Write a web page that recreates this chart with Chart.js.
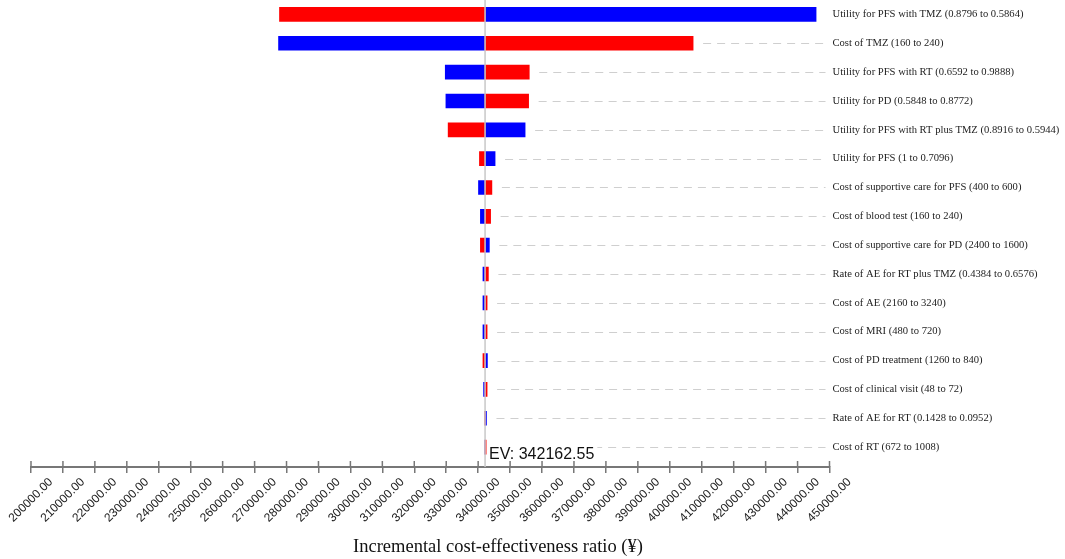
<!DOCTYPE html>
<html>
<head>
<meta charset="utf-8">
<script src="https://cdn.jsdelivr.net/npm/chart.js@4"></script>
<style>
  html, body { margin: 0; padding: 0; background: #fff; }
  #wrap { width: 1065px; height: 559px; }
</style>
</head>
<body>
<div id="wrap"><canvas id="tornadoChart" width="1065" height="559"></canvas></div>
<script>
// parameters, top to bottom
const parameterNames = [
  "Utility for PFS with TMZ (0.8796 to 0.5864)",
  "Cost of TMZ (160 to 240)",
  "Utility for PFS with RT (0.6592 to 0.9888)",
  "Utility for PD (0.5848 to 0.8772)",
  "Utility for PFS with RT plus TMZ (0.8916 to 0.5944)",
  "Utility for PFS (1 to 0.7096)",
  "Cost of supportive care for PFS (400 to 600)",
  "Cost of blood test (160 to 240)",
  "Cost of supportive care for PD (2400 to 1600)",
  "Rate of AE for RT plus TMZ (0.4384 to 0.6576)",
  "Cost of AE (2160 to 3240)",
  "Cost of MRI (480 to 720)",
  "Cost of PD treatment (1260 to 840)",
  "Cost of clinical visit (48 to 72)",
  "Rate of AE for RT (0.1428 to 0.0952)",
  "Cost of RT (672 to 1008)"
];

// ICER at each end of the range (red bar end / blue bar end)
const redEnds = [277800, 407300, 356000, 355800, 330600, 340400, 344300, 343900,
                 340700, 343200, 342800, 342800, 341500, 342800, 342100, 342500];
const blueEnds = [445800, 277500, 329700, 329900, 354700, 345300, 340100, 340700,
                  343500, 341500, 341500, 341500, 342900, 341700, 342600, 342100];

const expectedValue = 342162.55;

const xMin = 200000;
const xMax = 450000;
const xStep = 10000;

const axisGray = "#777777";

// dashed guide lines, EV line, EV label, up-ticks and axis title
const tornadoExtras = {
    id: "tornadoExtras",
    afterDatasetsDraw(chart) {
        const ctx = chart.ctx;
        const xs = chart.scales.x;
        const ys = chart.scales.y;
        const area = chart.chartArea;

        ctx.save();
        // dashed lines from bar end to the labels
        ctx.strokeStyle = "#cfcfcf";
        ctx.lineWidth = 1;
        ctx.setLineDash([8, 6]);
        parameterNames.forEach((name, i) => {
            const end = Math.max(redEnds[i], blueEnds[i], expectedValue);
            const x0 = xs.getPixelForValue(end) + 10;
            const y = Math.round(ys.getPixelForValue(i)) + 0.5;
            if (x0 < area.right - 4) {
                ctx.beginPath();
                ctx.moveTo(x0, y);
                ctx.lineTo(area.right - 4, y);
                ctx.stroke();
            }
        });
        ctx.setLineDash([]);

        // EV line
        const evX = xs.getPixelForValue(expectedValue);
        ctx.strokeStyle = "#c8c8c8";
        ctx.lineWidth = 1.5;
        ctx.beginPath();
        ctx.moveTo(evX, area.top);
        ctx.lineTo(evX, area.bottom);
        ctx.stroke();

        // EV label
        ctx.font = "16px 'Liberation Sans', Arial, sans-serif";
        const evText = "EV: " + expectedValue.toFixed(2);
        const w = ctx.measureText(evText).width;
        ctx.fillStyle = "#ffffff";
        ctx.fillRect(evX + 3, area.bottom - 22, w + 4, 19);
        ctx.fillStyle = "#111111";
        ctx.textBaseline = "middle";
        ctx.textAlign = "left";
        ctx.fillText(evText, evX + 4, area.bottom - 12);

        // upper half of the cross ticks
        ctx.strokeStyle = axisGray;
        ctx.lineWidth = 1.5;
        xs.ticks.forEach(t => {
            const x = xs.getPixelForValue(t.value);
            ctx.beginPath();
            ctx.moveTo(x, area.bottom - 6);
            ctx.lineTo(x, area.bottom);
            ctx.stroke();
        });

        // axis title
        ctx.font = "18.5px 'Liberation Serif', 'Times New Roman', serif";
        ctx.fillStyle = "#111111";
        ctx.textAlign = "center";
        ctx.textBaseline = "middle";
        ctx.fillText("Incremental cost-effectiveness ratio (\u00a5)", 498, 547);
        ctx.restore();
    }
};

const ctx = document.getElementById("tornadoChart").getContext("2d");
new Chart(ctx, {
    type: "bar",
    data: {
        datasets: [
            {
                label: "red",
                data: redEnds.map((v, i) => ({ x: [expectedValue, v], y: i })),
                backgroundColor: "#ff0000",
                borderWidth: 0,
                barThickness: 14,
                grouped: false
            },
            {
                label: "blue",
                data: blueEnds.map((v, i) => ({ x: [expectedValue, v], y: i })),
                backgroundColor: "#0000ff",
                borderWidth: 0,
                barThickness: 14,
                grouped: false
            }
        ]
    },
    options: {
        indexAxis: "y",
        responsive: false,
        animation: false,
        devicePixelRatio: 1,
        layout: { padding: { left: 31, right: 0, top: 0, bottom: 0 } },
        plugins: {
            legend: { display: false },
            tooltip: { enabled: false },
            title: { display: false }
        },
        scales: {
            x: {
                type: "linear",
                position: "bottom",
                min: xMin,
                max: xMax,
                afterBuildTicks: (scale) => {
                    const ticks = [];
                    for (let v = xMin; v <= xMax; v += xStep) ticks.push({ value: v });
                    scale.ticks = ticks;
                },
                ticks: {
                    minRotation: 45,
                    maxRotation: 45,
                    autoSkip: false,
                    labelOffset: 20,
                    padding: 2,
                    color: "#222222",
                    font: { family: "'Liberation Sans', Arial, sans-serif", size: 12 },
                    callback: (v) => Number(v).toFixed(2)
                },
                grid: {
                    drawOnChartArea: false,
                    drawTicks: true,
                    tickLength: 6,
                    color: axisGray,
                    lineWidth: 1.5
                },
                border: { display: true, color: axisGray, width: 2 },
                afterFit: (scale) => {
                    scale.height = 92;
                    scale.paddingLeft = 0;
                    scale.paddingRight = 0;
                }
            },
            y: {
                type: "linear",
                position: "right",
                reverse: true,
                offset: false,
                min: -0.5,
                max: 15.69,
                afterBuildTicks: (scale) => {
                    scale.ticks = parameterNames.map((n, i) => ({ value: i }));
                },
                ticks: {
                    autoSkip: false,
                    padding: 3,
                    color: "#222222",
                    font: { family: "'Liberation Serif', 'Times New Roman', serif", size: 10.6 },
                    callback: (v) => parameterNames[v]
                },
                grid: { display: false, drawTicks: false },
                border: { display: false },
                afterFit: (scale) => {
                    scale.width = 235.5;
                    scale.paddingTop = 0;
                    scale.paddingBottom = 0;
                }
            }
        }
    },
    plugins: [tornadoExtras]
});
</script>
</body>
</html>
